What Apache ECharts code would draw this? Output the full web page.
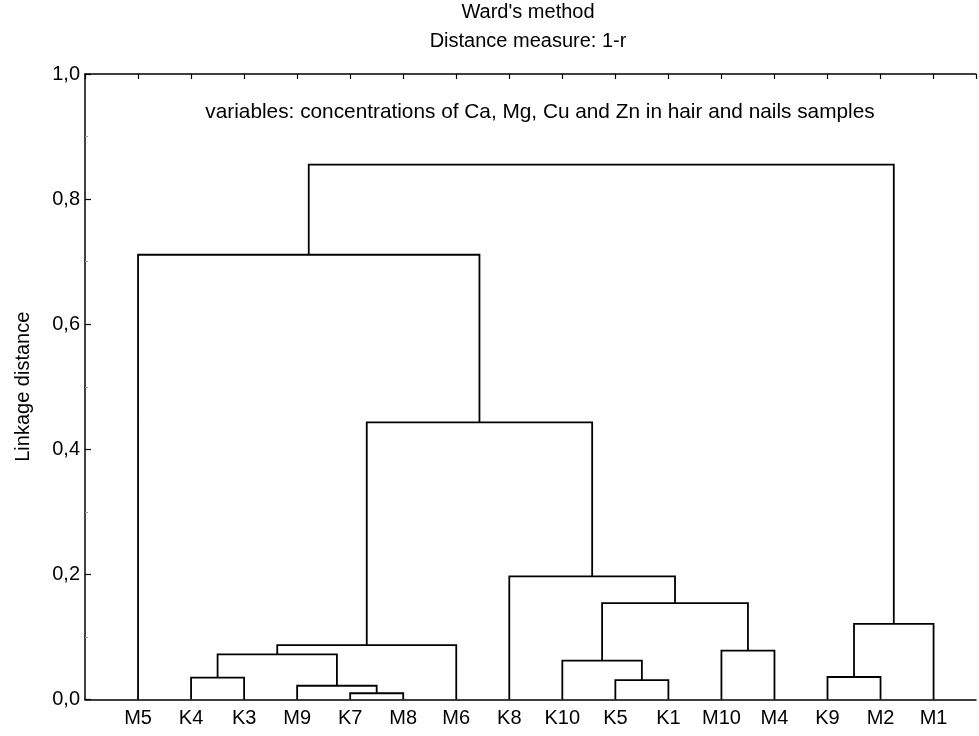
<!DOCTYPE html>
<html>
<head>
<meta charset="utf-8">
<script src="https://cdn.jsdelivr.net/npm/echarts@6/dist/echarts.min.js"></script>
<style>
  html, body { margin: 0; padding: 0; background: #fff; }
  #chart { width: 979px; height: 736px; }
</style>
</head>
<body>
<div id="chart"></div>
<script>
// leaves in plotted order
const leafLabels = ['M5', 'K4', 'K3', 'M9', 'K7', 'M8', 'M6', 'K8', 'K10', 'K5', 'K1', 'M10', 'M4', 'K9', 'M2', 'M1'];

// merges: ids 0..15 are leaves, each merge makes a new id (16, 17, ...)
const mergeLeft   = [4, 3, 1, 18, 19, 9, 8, 11, 22, 7, 20, 0, 13, 28, 27];
const mergeRight  = [5, 16, 2, 17, 6, 10, 21, 12, 23, 24, 25, 26, 14, 15, 29];
const mergeHeight = [0.010, 0.022, 0.035, 0.072, 0.087, 0.031, 0.062, 0.078, 0.154, 0.197, 0.443, 0.711, 0.036, 0.121, 0.855];

const yTicks = [0, 0.2, 0.4, 0.6, 0.8, 1.0];

// node positions: leaf i sits at x = i + 1, parents at the midpoint of children
const nodeX = leafLabels.map((_, i) => i + 1);
const nodeH = leafLabels.map(() => 0);
const links = [];
mergeLeft.forEach((a, k) => {
  const b = mergeRight[k];
  const h = mergeHeight[k];
  links.push([nodeX[a], nodeX[b], nodeH[a], nodeH[b], h]);
  nodeX.push((nodeX[a] + nodeX[b]) / 2);
  nodeH.push(h);
});

const font = 'Arial, "Liberation Sans", sans-serif';
const fs = 20;
// the frame runs past the right edge of the picture (cut off there)
const xMax = 16.8;

const chart = echarts.init(document.getElementById('chart'));
chart.setOption({
  animation: false,
  title: [
    { text: "Ward's method", left: 528, top: 2, padding: 0, textAlign: 'center',
      textStyle: { fontFamily: font, fontSize: fs, fontWeight: 'normal', color: '#000' } },
    { text: 'Distance measure: 1-r', left: 528, top: 31, padding: 0, textAlign: 'center',
      textStyle: { fontFamily: font, fontSize: fs, fontWeight: 'normal', color: '#000' } }
  ],
  graphic: [{
    type: 'text', x: 540, y: 112, z: 10,
    style: {
      text: 'variables: concentrations of Ca, Mg, Cu and Zn in hair and nails samples',
      fontFamily: font, fontSize: 20.8, fill: '#000',
      align: 'center', verticalAlign: 'middle',
      textAlign: 'center', textVerticalAlign: 'middle'
    }
  }],
  grid: { left: 85, right: 0, top: 74, height: 625.5 },
  xAxis: [{
    type: 'value', min: 0, max: xMax, interval: 1,
    position: 'bottom',
    axisLine: { lineStyle: { color: '#000', width: 1.5 } },
    axisTick: { show: false },
    splitLine: { show: false },
    axisLabel: {
      margin: 9, fontFamily: font, fontSize: fs, color: '#000',
      formatter: v => leafLabels[v - 1] || ''
    }
  }, {
    type: 'value', min: 0, max: xMax, interval: 1,
    position: 'top',
    axisLine: { lineStyle: { color: '#000', width: 1.5 } },
    axisTick: { inside: true, length: 5, lineStyle: { color: '#000', width: 1.2 } },
    splitLine: { show: false },
    axisLabel: { show: false }
  }],
  yAxis: {
    type: 'value', min: yTicks[0], max: yTicks[yTicks.length - 1], interval: 0.2,
    name: 'Linkage distance', nameLocation: 'middle', nameRotate: 90, nameGap: 52,
    nameTextStyle: { fontFamily: font, fontSize: fs, color: '#000' },
    axisLine: { show: true, lineStyle: { color: '#000', width: 1.5 } },
    axisTick: { show: true, inside: true, length: 6, lineStyle: { color: '#000', width: 1.2 } },
    minorTick: { show: true, splitNumber: 2, length: 3, lineStyle: { color: '#999', width: 1 } },
    splitLine: { show: false },
    axisLabel: {
      margin: 5, fontFamily: font, fontSize: fs, color: '#000',
      formatter: v => v.toFixed(1).replace('.', ',')
    }
  },
  series: [{
    type: 'custom',
    coordinateSystem: 'cartesian2d',
    xAxisIndex: 0,
    data: links,
    renderItem: (params, api) => {
      const x1 = api.value(0), x2 = api.value(1);
      const ha = api.value(2), hb = api.value(3), h = api.value(4);
      return {
        type: 'polyline',
        shape: { points: [api.coord([x1, ha]), api.coord([x1, h]), api.coord([x2, h]), api.coord([x2, hb])] },
        style: { stroke: '#000', lineWidth: 1.8, fill: null }
      };
    }
  }]
});
</script>
</body>
</html>
